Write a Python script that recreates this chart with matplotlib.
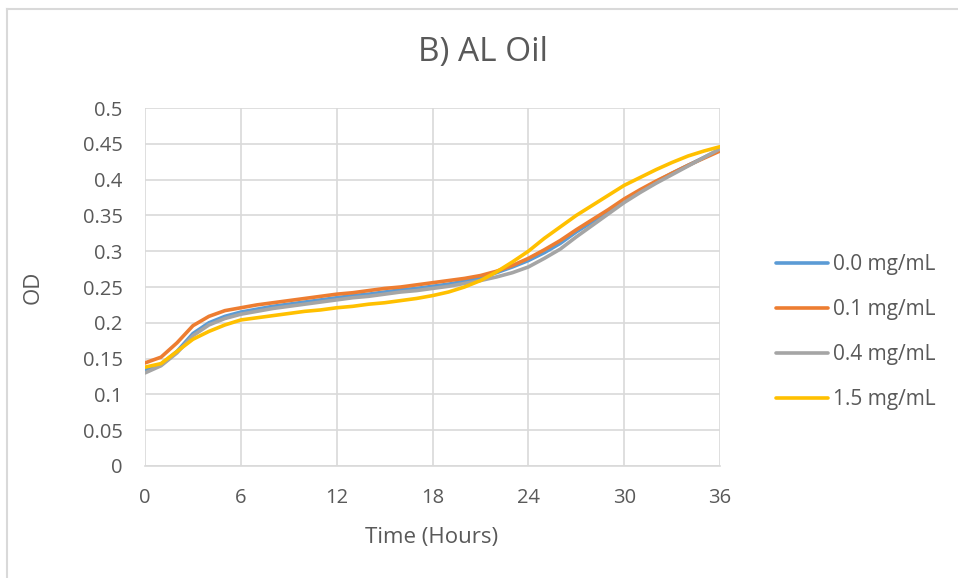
import matplotlib.pyplot as plt
from matplotlib.lines import Line2D

hours = list(range(0, 37))

od_00 = [0.134, 0.142, 0.160, 0.185, 0.200, 0.209, 0.215, 0.219, 0.223, 0.226,
         0.229, 0.232, 0.235, 0.238, 0.240, 0.243, 0.246, 0.248, 0.251, 0.254,
         0.258, 0.263, 0.270, 0.278, 0.287, 0.298, 0.311, 0.327, 0.341, 0.355,
         0.371, 0.384, 0.397, 0.409, 0.420, 0.431, 0.442]
od_01 = [0.144, 0.152, 0.172, 0.196, 0.209, 0.217, 0.221, 0.225, 0.228, 0.231,
         0.234, 0.237, 0.240, 0.242, 0.245, 0.248, 0.250, 0.253, 0.256, 0.259,
         0.262, 0.266, 0.272, 0.280, 0.290, 0.302, 0.315, 0.330, 0.344, 0.358,
         0.373, 0.386, 0.398, 0.409, 0.420, 0.430, 0.440]
od_04 = [0.130, 0.140, 0.158, 0.182, 0.197, 0.206, 0.212, 0.216, 0.220, 0.223,
         0.226, 0.229, 0.232, 0.235, 0.237, 0.240, 0.243, 0.245, 0.248, 0.251,
         0.255, 0.259, 0.264, 0.270, 0.278, 0.290, 0.303, 0.320, 0.336, 0.352,
         0.368, 0.382, 0.395, 0.407, 0.419, 0.431, 0.443]
od_15 = [0.138, 0.143, 0.160, 0.177, 0.188, 0.197, 0.204, 0.207, 0.210, 0.213,
         0.216, 0.218, 0.221, 0.223, 0.226, 0.228, 0.231, 0.234, 0.238, 0.243,
         0.250, 0.259, 0.271, 0.285, 0.300, 0.318, 0.334, 0.350, 0.364, 0.378,
         0.392, 0.403, 0.414, 0.424, 0.433, 0.440, 0.446]

labels = ["0.0 mg/mL", "0.1 mg/mL", "0.4 mg/mL", "1.5 mg/mL"]
colors = ["#5b9bd5", "#ed7d31", "#a5a5a5", "#ffc000"]

x_ticks = [0, 6, 12, 18, 24, 30, 36]
y_ticks = [0, 0.05, 0.1, 0.15, 0.2, 0.25, 0.3, 0.35, 0.4, 0.45, 0.5]

plt.rcParams["font.family"] = ["Open Sans", "DejaVu Sans"]
text_col = "#595959"

fig = plt.figure(figsize=(9.58, 5.78), dpi=100)
ax = fig.add_axes([0.1514, 0.1938, 0.6002, 0.6193])

for series, lab, col in zip([od_00, od_01, od_04, od_15], labels, colors):
    ax.plot(hours, series, color=col, linewidth=2.6, label=lab,
            solid_capstyle="round")

ax.set_xlim(0, 36)
ax.set_ylim(0, 0.5)
ax.set_xticks(x_ticks)
ax.set_yticks(y_ticks)
ax.set_xticklabels([str(t) for t in x_ticks])
ax.set_yticklabels([f"{t:g}" for t in y_ticks])
ax.grid(True, color="#d9d9d9", linewidth=1.2)
ax.set_axisbelow(True)
for side in ["top", "right", "left"]:
    ax.spines[side].set_visible(False)
ax.spines["bottom"].set_color("#d9d9d9")
ax.spines["bottom"].set_linewidth(1.2)
ax.tick_params(length=0, labelsize=14.5, colors=text_col)
ax.tick_params(axis="x", pad=16)
ax.tick_params(axis="y", pad=16)

fig.text(432 / 958, 1 - 537 / 578, "Time (Hours)", fontsize=16, color=text_col,
         ha="center", va="center")
fig.text(33 / 958, 1 - 287 / 578, "OD", fontsize=16, color=text_col,
         ha="center", va="center", rotation=90)
fig.text(483 / 958, 1 - 52 / 578, "B) AL Oil", fontsize=24, color=text_col,
         ha="center", va="center")

ax.legend(loc="center left", bbox_to_anchor=(1.065, 0.374), frameon=False,
          fontsize=15, labelcolor=text_col, handlelength=2.5,
          handletextpad=0.25, labelspacing=1.16)

# chart area border (top and left visible)
fig.add_artist(Line2D([7 / 958, 7 / 958], [0, 1 - 9 / 578],
                      transform=fig.transFigure, color="#d9d9d9", linewidth=1.5))
fig.add_artist(Line2D([7 / 958, 1], [1 - 9 / 578, 1 - 9 / 578],
                      transform=fig.transFigure, color="#d9d9d9", linewidth=1.5))

fig.savefig("out.png", dpi=100)
